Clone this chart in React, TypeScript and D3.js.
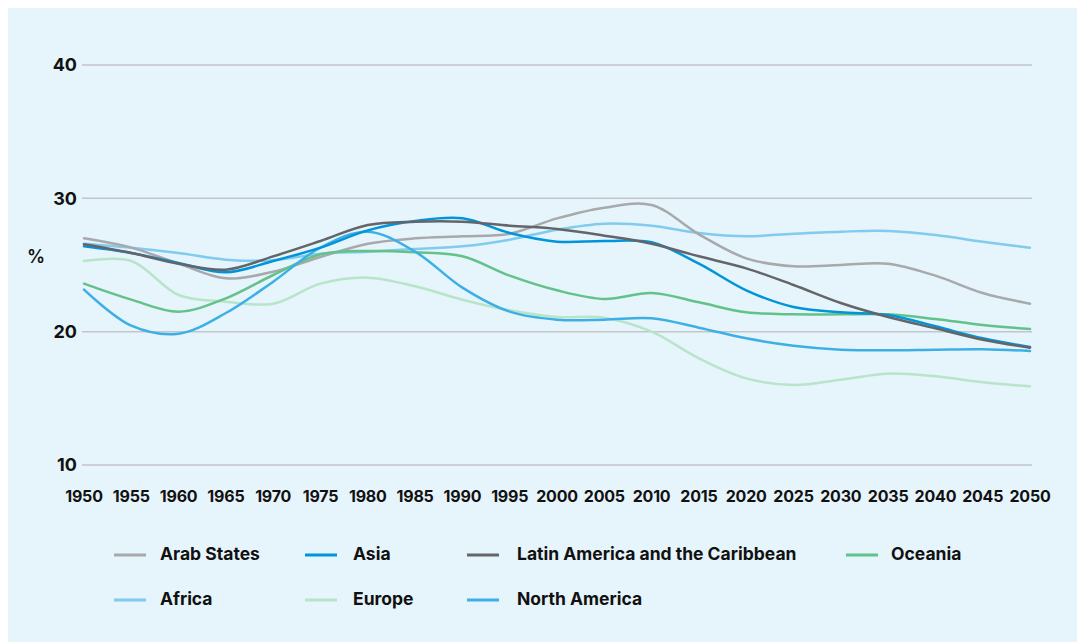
import React from "react";
import * as d3 from "d3";

const years = d3.range(1950, 2051, 5);
const yTicks = [10, 20, 30, 40];

const arabStates = [27.0, 26.3, 25.1, 24.0, 24.5, 25.6, 26.6, 27.0, 27.15, 27.35, 28.5, 29.3, 29.5, 27.3, 25.5, 24.9, 25.0, 25.1, 24.2, 22.9, 22.1];
const africa = [26.6, 26.3, 25.9, 25.4, 25.35, 25.85, 26.0, 26.2, 26.4, 26.9, 27.65, 28.1, 27.95, 27.4, 27.15, 27.35, 27.5, 27.55, 27.25, 26.75, 26.3];
const asia = [26.4, 25.9, 25.15, 24.45, 25.3, 26.3, 27.6, 28.3, 28.5, 27.4, 26.75, 26.8, 26.7, 25.1, 23.1, 21.85, 21.45, 21.25, 20.4, 19.5, 18.85];
const latinAmerica = [26.55, 25.9, 25.1, 24.65, 25.65, 26.8, 28.0, 28.25, 28.25, 27.95, 27.7, 27.2, 26.6, 25.65, 24.75, 23.5, 22.15, 21.1, 20.25, 19.4, 18.8];
const oceania = [23.6, 22.4, 21.5, 22.5, 24.25, 25.8, 26.05, 25.95, 25.65, 24.2, 23.1, 22.45, 22.9, 22.2, 21.45, 21.3, 21.3, 21.3, 20.95, 20.5, 20.2];
const europe = [25.3, 25.3, 22.75, 22.25, 22.1, 23.6, 24.05, 23.4, 22.4, 21.6, 21.1, 21.05, 20.0, 18.0, 16.5, 16.0, 16.4, 16.85, 16.65, 16.2, 15.9];
const northAmerica = [23.15, 20.45, 19.85, 21.4, 23.75, 26.3, 27.5, 26.0, 23.3, 21.5, 20.9, 20.9, 21.0, 20.3, 19.5, 18.95, 18.65, 18.6, 18.65, 18.68, 18.55];

const seriesNames = ["Arab States", "Asia", "Latin America and the Caribbean", "Oceania", "Africa", "Europe", "North America"];
const seriesColors = ["#a7a9ac", "#0095da", "#646569", "#62c28a", "#80cbee", "#b8e5ca", "#3cb0e6"];
const seriesValues = [arabStates, asia, latinAmerica, oceania, africa, europe, northAmerica];

// draw order (back to front)
const drawOrder = [5, 4, 0, 3, 6, 1, 2];

export default function App() {
  const x = d3.scaleLinear().domain([1950, 2050]).range([84, 1030]);
  const y = d3.scaleLinear().domain([10, 40]).range([465, 65]);
  const line = d3
    .line<number>()
    .x((_, i) => x(years[i]))
    .y((d) => y(d))
    .curve(d3.curveCatmullRom.alpha(0.5));

  const legendCols = [114, 305, 467, 846];
  const legendTextX = [160, 353, 517, 891];
  const legendRows = [555, 600];
  const font = "Inter, 'Noto Sans', sans-serif";

  return (
    <svg
      width={1077}
      height={642}
      style={{ position: "absolute", left: 0, top: 0, display: "block" }}
    >
      <rect x={8} y={8} width={1069} height={634} fill="#e6f4fb" />
      {yTicks.map((t) => (
        <g key={t}>
          <line x1={82} x2={1032} y1={y(t)} y2={y(t)} stroke="#c3c5c8" strokeWidth={1.5} />
          <text
            x={77}
            y={y(t)}
            dy="0.36em"
            textAnchor="end"
            fontFamily={font}
            fontWeight={700}
            fontSize={18}
            fill="#111"
          >
            {t}
          </text>
        </g>
      ))}
      <text x={27} y={257} dy="0.36em" fontFamily={font} fontWeight={600} fontSize={18} fill="#111">
        %
      </text>
      {years.map((yr) => (
        <text
          key={yr}
          x={x(yr)}
          y={501.5}
          textAnchor="middle"
          fontFamily={font}
          fontWeight={700}
          fontSize={16}
          letterSpacing={-0.2}
          fill="#111"
        >
          {yr}
        </text>
      ))}
      {drawOrder.map((i) => (
        <path
          key={seriesNames[i]}
          d={line(seriesValues[i]) || ""}
          fill="none"
          stroke={seriesColors[i]}
          strokeWidth={2.5}
          strokeLinejoin="round"
          strokeLinecap="round"
        />
      ))}
      {seriesNames.map((name, i) => {
        const col = i % 4;
        const row = Math.floor(i / 4);
        const lx = legendCols[col];
        const ly = legendRows[row];
        return (
          <g key={name}>
            <line x1={lx} x2={lx + 32} y1={ly} y2={ly} stroke={seriesColors[i]} strokeWidth={3} />
            <text
              x={legendTextX[col]}
              y={ly - 1}
              dy="0.36em"
              fontFamily={font}
              fontWeight={700}
              fontSize={17.5}
              fill="#111"
            >
              {name}
            </text>
          </g>
        );
      })}
    </svg>
  );
}
